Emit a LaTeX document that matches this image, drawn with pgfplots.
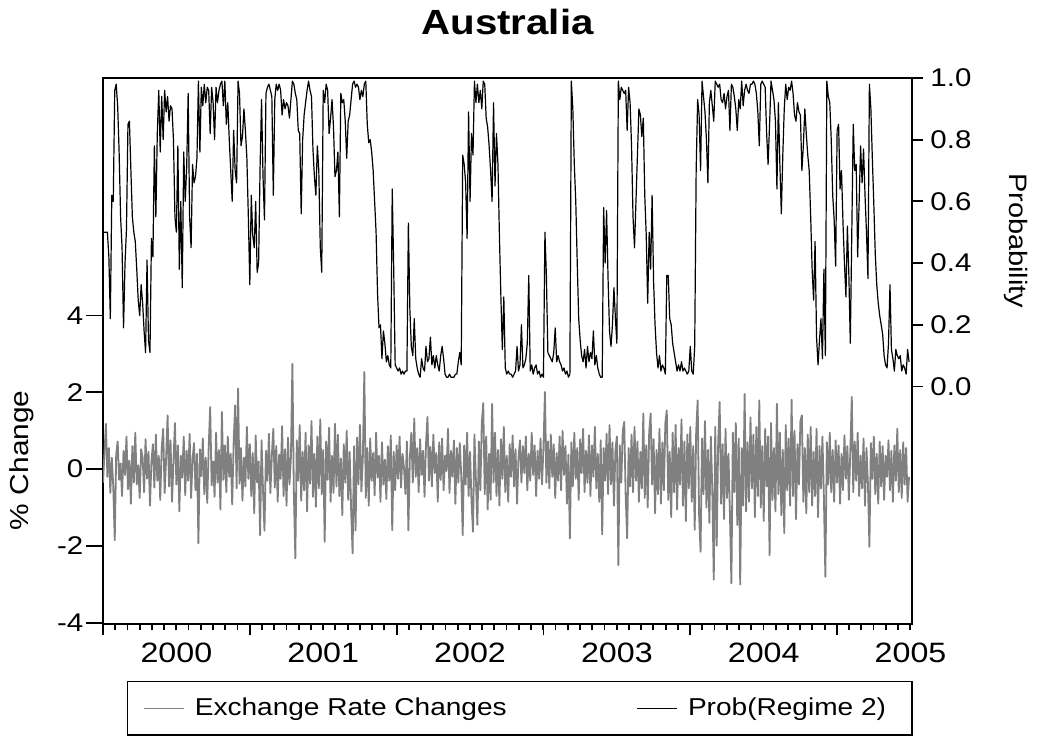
\documentclass[border=0pt]{standalone}
\usepackage{fontspec}
\setmainfont{Liberation Sans}[FakeStretch=1.15]
\usepackage{pgfplots}
\pgfplotsset{compat=1.18}
\usepackage{pgfplotstable}
\definecolor{ergray}{RGB}{128,128,128}

% Exchange rate changes, one observation every 0.01 year from 1999.50
\pgfplotstableread[row sep=\\]{chg\\
-0.35\\0.42\\1.18\\-0.20\\0.55\\-0.62\\0.30\\-0.45\\-1.85\\0.38\\
0.72\\-0.28\\0.15\\-0.70\\0.48\\-0.15\\0.85\\-0.52\\0.22\\-0.90\\
0.60\\-0.35\\0.95\\-0.40\\0.10\\-0.75\\0.52\\0.30\\-0.60\\0.78\\
-0.25\\0.45\\-0.95\\0.20\\0.65\\-0.48\\0.90\\-0.30\\0.35\\-0.80\\
0.55\\1.05\\-0.62\\0.28\\1.40\\-0.45\\0.75\\-0.85\\0.18\\1.20\\
-0.40\\0.62\\-1.10\\0.35\\-0.22\\0.85\\-0.68\\0.48\\-0.30\\0.92\\
-0.75\\0.25\\0.68\\-0.55\\0.40\\-1.93\\0.52\\-0.18\\0.80\\-0.65\\
0.30\\-0.88\\0.58\\1.62\\-0.42\\0.20\\-0.72\\0.95\\-0.35\\0.50\\
-1.05\\1.49\\-0.28\\0.62\\-0.60\\0.85\\-0.20\\0.40\\-0.92\\0.70\\
1.66\\-0.50\\2.10\\-0.38\\0.55\\-0.82\\0.30\\-0.45\\1.10\\-0.25\\
0.65\\-0.70\\0.42\\-1.15\\0.88\\-0.35\\0.20\\-1.72\\0.75\\-0.55\\
-1.60\\0.48\\-0.30\\0.92\\-0.62\\0.35\\1.05\\-0.48\\0.60\\-0.85\\
0.38\\-0.25\\1.12\\-0.70\\0.52\\-0.95\\0.82\\-0.40\\0.30\\2.74\\
-0.60\\-2.32\\0.75\\-0.30\\1.15\\-0.82\\0.45\\-0.55\\0.95\\-1.10\\
0.62\\-0.38\\1.25\\-0.72\\0.40\\-0.98\\0.85\\-0.50\\1.30\\-0.65\\
0.50\\-1.89\\0.72\\-0.28\\1.08\\-0.85\\0.35\\-0.62\\1.18\\-0.45\\
0.90\\-0.70\\0.28\\-1.20\\0.65\\-0.35\\1.00\\-0.80\\0.45\\-1.05\\
-2.19\\0.60\\-1.60\\0.82\\-0.40\\1.15\\-0.58\\0.30\\2.53\\-0.75\\
0.55\\-0.95\\0.80\\-0.30\\0.42\\-0.68\\0.95\\-0.22\\0.35\\-0.85\\
0.70\\-0.40\\0.25\\-0.78\\0.60\\-0.30\\0.88\\-1.59\\0.45\\-0.55\\
0.62\\-0.25\\0.85\\-0.48\\0.40\\0.05\\-0.65\\0.72\\-1.59\\0.30\\
0.95\\-0.35\\1.32\\-0.20\\0.55\\-0.60\\0.78\\-0.15\\0.48\\-0.72\\
0.65\\1.36\\-0.30\\0.58\\-0.45\\0.90\\-0.10\\0.42\\-0.85\\0.70\\
-0.28\\0.80\\-0.55\\0.35\\-0.05\\1.05\\-0.62\\0.48\\-0.20\\0.75\\
-0.90\\0.55\\-0.35\\0.68\\-0.15\\-1.72\\0.62\\-0.40\\0.95\\-0.70\\
0.45\\-0.85\\-1.63\\0.90\\-0.30\\-1.45\\0.72\\-0.55\\1.20\\1.72\\
-0.65\\0.85\\-1.05\\0.40\\-0.80\\1.70\\-0.35\\0.95\\-0.70\\0.50\\
-0.95\\0.78\\-0.25\\1.10\\-0.60\\0.35\\-0.85\\0.65\\-0.20\\0.88\\
-0.45\\0.52\\-0.90\\0.30\\0.75\\-0.35\\0.60\\-0.10\\0.85\\-0.55\\
0.40\\-0.30\\0.95\\-0.15\\0.62\\-0.70\\0.48\\-0.25\\0.80\\-0.40\\
0.55\\2.01\\-0.35\\0.72\\-0.50\\0.90\\-0.20\\0.65\\-0.75\\0.42\\
-0.30\\0.85\\-0.55\\1.00\\-0.15\\0.60\\-0.90\\0.38\\-1.80\\0.70\\
-0.45\\0.95\\-0.25\\0.55\\-0.80\\0.78\\-0.10\\1.05\\-0.60\\0.48\\
-0.35\\0.88\\-0.70\\0.62\\-0.20\\1.10\\-0.50\\0.40\\-0.85\\0.75\\
-1.70\\0.55\\-0.30\\0.92\\-0.65\\1.15\\-0.40\\0.70\\-0.95\\0.48\\
0.85\\-2.50\\0.62\\-0.35\\1.00\\1.23\\-0.70\\-1.80\\0.55\\-0.45\\
0.90\\-0.60\\1.10\\-0.30\\0.72\\-0.85\\0.45\\-0.50\\1.45\\-0.75\\
0.62\\-1.00\\0.95\\1.45\\-0.40\\0.78\\-1.15\\0.50\\-0.65\\1.05\\
-0.90\\0.70\\-0.55\\1.20\\1.53\\-0.80\\0.45\\-1.25\\0.95\\-0.60\\
1.15\\-1.05\\0.55\\-0.40\\1.30\\-0.95\\0.72\\-1.35\\0.90\\-0.50\\
1.10\\-0.85\\0.60\\-1.58\\0.95\\1.79\\-1.20\\-2.15\\0.80\\-0.65\\
1.25\\-1.00\\0.50\\-1.40\\0.85\\-0.55\\-2.88\\1.10\\-1.99\\0.70\\
1.75\\-0.90\\0.65\\-1.30\\1.05\\-0.75\\0.40\\-1.15\\-2.97\\0.95\\
-0.60\\1.20\\-1.45\\0.80\\-3.00\\0.55\\-0.95\\1.96\\-1.10\\0.70\\
-0.85\\1.35\\-0.50\\0.90\\-1.25\\1.10\\-0.70\\1.79\\-1.00\\0.60\\
-1.35\\1.05\\-0.45\\0.85\\-2.24\\1.20\\-0.80\\0.55\\-1.10\\1.70\\
-0.65\\0.95\\-1.20\\0.50\\-1.67\\1.15\\-0.55\\0.80\\-0.95\\1.81\\
-0.70\\1.00\\-1.30\\0.65\\-0.40\\1.25\\1.40\\-0.85\\0.55\\-1.15\\
0.90\\-0.60\\1.10\\-0.95\\0.45\\-0.70\\1.05\\-1.25\\0.60\\-0.50\\
0.85\\-0.75\\-2.80\\0.70\\-0.40\\0.95\\-0.60\\0.50\\-0.85\\0.75\\
-0.35\\0.62\\-0.90\\0.40\\-0.55\\0.88\\-0.25\\0.60\\-0.80\\0.45\\
1.88\\-0.60\\0.72\\-0.30\\0.95\\-0.70\\0.35\\-0.50\\0.80\\-0.95\\
0.55\\-0.40\\-2.02\\0.68\\-0.25\\0.85\\-0.65\\0.40\\-0.90\\0.72\\
-0.45\\0.60\\-0.80\\0.35\\-0.20\\0.75\\-0.55\\0.48\\-0.85\\0.62\\
-0.30\\1.05\\-0.60\\0.50\\-0.75\\0.70\\-0.40\\0.55\\-0.85\\-0.20\\
}\exchtable

% Probability of regime 2, one observation every 0.01 year from 1999.50
\pgfplotstableread[row sep=\\]{prob\\
0.50\\0.50\\0.50\\0.50\\0.42\\0.22\\0.62\\0.60\\0.96\\0.98\\
0.91\\0.76\\0.55\\0.45\\0.19\\0.40\\0.51\\0.85\\0.86\\0.70\\
0.55\\0.50\\0.47\\0.38\\0.28\\0.23\\0.33\\0.27\\0.18\\0.11\\
0.41\\0.15\\0.11\\0.48\\0.42\\0.78\\0.55\\0.82\\0.96\\0.76\\
0.94\\0.80\\0.96\\0.89\\0.94\\0.86\\0.91\\0.90\\0.80\\0.55\\
0.50\\0.78\\0.38\\0.60\\0.32\\0.76\\0.60\\0.71\\0.95\\0.55\\
0.45\\0.72\\0.66\\0.68\\0.74\\0.99\\0.76\\0.97\\0.91\\0.98\\
0.92\\0.97\\0.96\\0.82\\0.97\\0.92\\0.80\\0.97\\0.92\\0.96\\
0.98\\0.99\\0.91\\0.99\\0.85\\0.92\\0.80\\0.70\\0.60\\0.83\\
0.70\\0.66\\0.99\\0.95\\0.78\\0.81\\0.90\\0.83\\0.74\\0.55\\
0.33\\0.62\\0.49\\0.45\\0.60\\0.37\\0.40\\0.71\\0.93\\0.68\\
0.54\\0.95\\0.97\\0.98\\0.96\\0.94\\0.62\\0.93\\0.98\\0.96\\
0.98\\0.96\\0.88\\0.93\\0.90\\0.92\\0.91\\0.87\\0.93\\0.99\\
0.98\\0.95\\0.93\\0.83\\0.82\\0.56\\0.80\\0.88\\0.92\\0.96\\
0.99\\0.96\\0.94\\0.77\\0.68\\0.62\\0.78\\0.70\\0.45\\0.37\\
0.96\\0.92\\0.98\\0.96\\0.82\\0.87\\0.93\\0.84\\0.68\\0.70\\
0.76\\0.55\\0.95\\0.92\\0.93\\0.86\\0.74\\0.86\\0.88\\0.93\\
0.98\\0.99\\0.97\\0.98\\0.97\\0.93\\0.96\\0.94\\0.98\\0.99\\
0.85\\0.79\\0.80\\0.76\\0.70\\0.60\\0.50\\0.30\\0.19\\0.20\\
0.09\\0.18\\0.14\\0.08\\0.10\\0.07\\0.06\\0.64\\0.38\\0.07\\
0.06\\0.05\\0.06\\0.04\\0.05\\0.04\\0.05\\0.05\\0.53\\0.25\\
0.13\\0.10\\0.22\\0.09\\0.06\\0.04\\0.03\\0.09\\0.06\\0.05\\
0.13\\0.08\\0.09\\0.16\\0.07\\0.10\\0.06\\0.10\\0.07\\0.05\\
0.10\\0.13\\0.09\\0.04\\0.03\\0.03\\0.04\\0.03\\0.03\\0.03\\
0.04\\0.04\\0.08\\0.11\\0.07\\0.75\\0.72\\0.66\\0.48\\0.89\\
0.60\\0.82\\0.75\\0.99\\0.92\\0.98\\0.92\\0.96\\0.90\\0.99\\
0.98\\0.87\\0.84\\0.78\\0.70\\0.60\\0.92\\0.65\\0.82\\0.72\\
0.49\\0.29\\0.12\\0.29\\0.06\\0.04\\0.05\\0.04\\0.04\\0.03\\
0.04\\0.05\\0.13\\0.05\\0.07\\0.20\\0.06\\0.07\\0.09\\0.14\\
0.36\\0.05\\0.07\\0.04\\0.06\\0.07\\0.04\\0.05\\0.03\\0.04\\
0.03\\0.50\\0.36\\0.11\\0.10\\0.09\\0.08\\0.11\\0.19\\0.08\\
0.10\\0.08\\0.07\\0.05\\0.06\\0.04\\0.05\\0.03\\0.04\\0.99\\
0.90\\0.72\\0.60\\0.40\\0.22\\0.15\\0.10\\0.08\\0.12\\0.06\\
0.13\\0.08\\0.11\\0.09\\0.18\\0.07\\0.10\\0.06\\0.04\\0.03\\
0.03\\0.58\\0.40\\0.57\\0.35\\0.18\\0.13\\0.20\\0.32\\0.22\\
0.14\\0.99\\0.93\\0.97\\0.96\\0.95\\0.96\\0.83\\0.97\\0.92\\
0.78\\0.55\\0.45\\0.60\\0.75\\0.90\\0.88\\0.81\\0.87\\0.62\\
0.49\\0.27\\0.50\\0.38\\0.62\\0.34\\0.20\\0.11\\0.06\\0.10\\
0.05\\0.07\\0.06\\0.04\\0.36\\0.36\\0.22\\0.20\\0.14\\0.11\\
0.08\\0.05\\0.07\\0.05\\0.08\\0.05\\0.06\\0.05\\0.04\\0.05\\
0.13\\0.05\\0.04\\0.13\\0.70\\0.93\\0.88\\0.70\\0.99\\0.94\\
0.89\\0.80\\0.66\\0.92\\0.96\\0.91\\0.86\\0.99\\0.98\\0.97\\
0.98\\0.93\\0.92\\0.95\\0.90\\0.94\\0.96\\0.83\\0.98\\0.97\\
0.94\\0.90\\0.83\\0.93\\0.90\\0.99\\0.91\\0.96\\0.98\\0.96\\
0.95\\0.98\\0.98\\0.99\\0.98\\0.95\\0.89\\0.78\\0.98\\0.99\\
0.98\\0.97\\0.82\\0.72\\0.85\\0.99\\0.96\\0.93\\0.86\\0.64\\
0.92\\0.72\\0.56\\0.75\\0.90\\0.98\\0.93\\0.97\\0.96\\0.99\\
0.95\\0.88\\0.86\\0.92\\0.89\\0.88\\0.70\\0.78\\0.90\\0.82\\
0.75\\0.70\\0.55\\0.38\\0.28\\0.47\\0.16\\0.07\\0.15\\0.22\\
0.09\\0.38\\0.10\\0.99\\0.94\\0.92\\0.80\\0.62\\0.54\\0.39\\
0.83\\0.85\\0.64\\0.70\\0.53\\0.40\\0.29\\0.52\\0.36\\0.14\\
0.50\\0.85\\0.70\\0.72\\0.42\\0.60\\0.78\\0.66\\0.77\\0.62\\
0.50\\0.35\\0.98\\0.90\\0.74\\0.59\\0.43\\0.33\\0.27\\0.23\\
0.20\\0.17\\0.10\\0.07\\0.06\\0.14\\0.33\\0.12\\0.09\\0.05\\
0.12\\0.10\\0.09\\0.10\\0.05\\0.07\\0.06\\0.04\\0.12\\0.08\\
}\probtable

\begin{document}
\begin{tikzpicture}
\path[use as bounding box] (-51.5pt,-63.5pt) rectangle (470pt,312pt);
% ---------- left axis: exchange rate changes ----------
\begin{axis}[
  scale only axis, width=404.5pt, height=273pt,
  xmin=1999.5, xmax=2005.01,
  ymin=-4.03, ymax=10.18,
  axis line style={line width=0.9pt},
  tick style={line width=0.9pt, black},
  tick align=outside,
  major tick length=8.5pt,
  ytick={-4,-2,0,2,4},
  ytick pos=left,
  xtick={2000,2001,2002,2003,2004,2005},
  xticklabels={2000,2001,2002,2003,2004,2005},
  xtick pos=bottom,
  xtick style={draw=none},
  /pgf/number format/assume math mode=true,
  yticklabel style={font=\fontsize{12.8}{14}\selectfont, xshift=2.2pt},
  xticklabel style={font=\fontsize{14}{16}\selectfont, yshift=2.5pt},
  title={Australia},
  title style={font=\bfseries\fontsize{17.5}{20}\selectfont, at={(0.5,1)}, anchor=base, yshift=16pt},
  ylabel={\% Change},
  ylabel style={font=\fontsize{13}{15}\selectfont, at={(axis description cs:-0.100,0.30)}, anchor=center},
]
\addplot[color=ergray, line width=0.9pt, line join=round] table[x expr=1999.5+0.01*\coordindex, y=chg] {\exchtable};
\end{axis}
% ---------- right axis: probability ----------
\begin{axis}[
  scale only axis, width=404.5pt, height=273pt,
  xmin=1999.5, xmax=2005.01,
  ymin=-0.77, ymax=1.0,
  axis x line*=bottom,
  axis y line*=right,
  axis line style={line width=0.9pt},
  tick style={line width=0.9pt, black},
  tick align=outside,
  major tick length=5.7pt,
  minor tick length=3pt,
  xtick={1999.5,2000.5,2001.5,2002.5,2003.5,2004.5},
  xticklabels={{},{},{},{},{},{}},
  minor xtick={1999.583333,1999.666667,...,2005.0},
  ytick={0,0.2,0.4,0.6,0.8,1.0},
  yticklabel style={font=\fontsize{12.8}{14}\selectfont,
    /pgf/number format/.cd, fixed, fixed zerofill, precision=1, assume math mode=true},
  ylabel={Probability},
  ylabel style={font=\fontsize{12.6}{14}\selectfont, at={(axis description cs:1.1286,0.702)}, anchor=center, rotate=180},
  legend columns=2,
  legend image code/.code={\draw[#1] (0pt,0pt) -- (20pt,0pt);},
  legend style={at={(axis description cs:0.0297,-0.104)}, anchor=north west,
    draw=black, line width=0.6pt, font=\fontsize{12.2}{14}\selectfont,
    inner xsep=8pt, inner ysep=5.75pt,
    nodes={inner xsep=5pt, inner ysep=2.5pt},
    /tikz/every even column/.append style={column sep=60pt}},
]
\addlegendimage{color=ergray, line width=0.6pt}
\addlegendentry{Exchange Rate Changes}
\addplot[color=black, line width=0.6pt, line join=round] table[x expr=1999.5+0.01*\coordindex, y=prob] {\probtable};
\addlegendentry{Prob(Regime 2)}
\end{axis}
\end{tikzpicture}
\end{document}
